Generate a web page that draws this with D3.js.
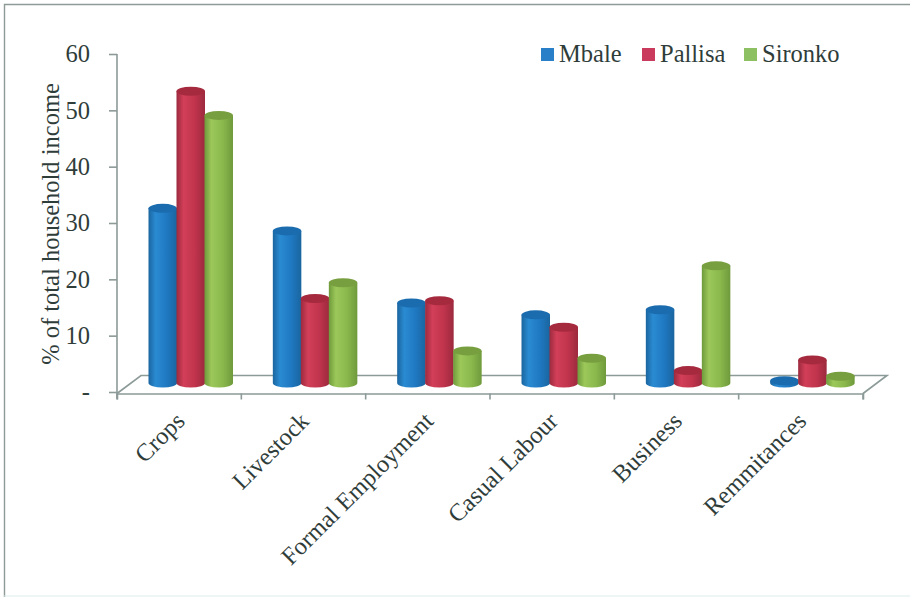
<!DOCTYPE html>
<html>
<head>
<meta charset="utf-8">
<script src="https://cdn.jsdelivr.net/npm/d3@7"></script>
<style>
  html, body { margin: 0; padding: 0; background: #fff; }
  svg { display: block; }
  text { font-family: "Liberation Serif", serif; fill: #2f3d3a; }
</style>
</head>
<body>
<svg id="chart" width="910" height="597"></svg>
<script>
const categories = ["Crops", "Livestock", "Formal Employment", "Casual Labour", "Business", "Remmitances"];
const seriesNames = ["Mbale", "Pallisa", "Sironko"];
const mbale = [31.0, 27.0, 14.2, 12.1, 13.0, 0.4];
const pallisa = [51.8, 15.0, 14.6, 9.9, 2.2, 4.1];
const sironko = [47.5, 17.8, 5.7, 4.4, 20.8, 1.2];
const seriesValues = [mbale, pallisa, sironko];
const yTicks = [0, 10, 20, 30, 40, 50, 60];
const palette = [
  { light: "#2a8bd2", mid: "#1f78c1", dark: "#1a659f", top: "#1b6cae", key: "#2a7fc9" },
  { light: "#d23f58", mid: "#c0344c", dark: "#9c2a3e", top: "#a62a3e", key: "#c93a5c" },
  { light: "#9cc85a", mid: "#8ab84c", dark: "#6f9a3c", top: "#789f3f", key: "#8cc062" }
];

const svg = d3.select("#chart");
const margin = { left: 117, right: 863, top: 54, bottom: 392 };
const depth = { x: 24, y: 18 };

const x = d3.scaleBand().domain(categories).range([margin.left, margin.right]);
const bars = d3.scaleBand().domain(seriesNames).range([0, 84]);
const y = d3.scaleLinear().domain([0, 60]).range([margin.bottom, margin.top]);

// Page frame: top and left edges are strong, the bottom edge is faint
svg.append("path").attr("d", "M910,4.5 H4.5 V597")
  .attr("fill", "none").attr("stroke", "#8d9a98").attr("stroke-width", 1.4);
svg.append("line").attr("x1", 4).attr("x2", 910).attr("y1", 596).attr("y2", 596)
  .attr("stroke", "#dcecec").attr("stroke-width", 1.2);

// Horizontal shading across each cylinder
const defs = svg.append("defs");
palette.forEach((c, i) => {
  const g = defs.append("linearGradient").attr("id", "cyl" + i);
  g.append("stop").attr("offset", "0%").attr("stop-color", c.dark);
  g.append("stop").attr("offset", "25%").attr("stop-color", c.light);
  g.append("stop").attr("offset", "65%").attr("stop-color", c.mid);
  g.append("stop").attr("offset", "100%").attr("stop-color", c.dark);
});

// Floor of the 3D plot
const floorY = margin.bottom + 1.5;
svg.append("path")
  .attr("d", d3.line()([
    [margin.left, floorY],
    [margin.left + depth.x, floorY - depth.y],
    [margin.right + depth.x, floorY - depth.y],
    [margin.right, floorY]
  ]))
  .attr("fill", "none").attr("stroke", "#8c9a98").attr("stroke-width", 1.6);

// Value axis
const yAxis = d3.axisLeft(y).tickValues(yTicks).tickSize(8).tickSizeOuter(8).tickPadding(19)
  .tickFormat(d => d === 0 ? "-" : d);
const yg = svg.append("g").attr("transform", `translate(${margin.left},0)`).call(yAxis);
yg.selectAll("path, line").attr("stroke", "#8c9a98").attr("stroke-width", 1.6);
yg.selectAll("text").attr("font-size", 24.5);
yg.select(".domain").remove();
yg.append("line").attr("x1", 0).attr("x2", 0).attr("y1", margin.top).attr("y2", floorY + 5)
  .attr("stroke", "#8c9a98").attr("stroke-width", 1.6);

// Category axis
const xAxis = d3.axisBottom(x).tickSize(6).tickSizeOuter(6).tickFormat("");
const xg = svg.append("g").attr("transform", `translate(0,${floorY})`).call(xAxis);
xg.selectAll("path, line").attr("stroke", "#8c9a98").attr("stroke-width", 1.6);
xg.selectAll(".tick line").attr("transform", function () {
  // tick marks sit on band edges, not band centres
  return `translate(${-x.bandwidth() / 2},0)`;
});
xg.selectAll(".tick").filter((d, i) => i === categories.length - 1)
  .append("line").attr("x1", x.bandwidth() / 2).attr("x2", x.bandwidth() / 2).attr("y2", 6)
  .attr("stroke", "#8c9a98").attr("stroke-width", 1.6);

// Cylinders, one group per category
const baseShift = 9;
const ry = 4.5;
const barShift = 31.5;
seriesNames.forEach((name, s) => {
  categories.forEach((cat, i) => {
    const bx = x(cat) + barShift + bars(name);
    const w = bars.bandwidth() + 0.5;
    const top = y(seriesValues[s][i]) - baseShift;
    const base = y(0) - baseShift;
    const g = svg.append("g");
    g.append("path")
      .attr("d", `M${bx},${top} L${bx},${base} A${w / 2},${ry} 0 0 0 ${bx + w},${base} L${bx + w},${top} Z`)
      .attr("fill", `url(#cyl${s})`);
    g.append("ellipse")
      .attr("cx", bx + w / 2).attr("cy", top)
      .attr("rx", w / 2).attr("ry", ry)
      .attr("fill", palette[s].top);
  });
});

// Axis title
svg.append("text")
  .attr("transform", "translate(59,224) rotate(-90)")
  .attr("text-anchor", "middle")
  .attr("font-size", 24.5)
  .text("% of total household income");

// Slanted category labels
svg.selectAll("text.cat").data(categories).join("text")
  .attr("class", "cat")
  .attr("text-anchor", "end")
  .attr("font-size", 24.5)
  .attr("transform", d => `translate(${x(d) + x.bandwidth() / 2 + 7},${floorY + 29}) rotate(-45)`)
  .text(d => d);

// Legend
const legendX = [541, 642, 744];
seriesNames.forEach((name, s) => {
  svg.append("rect").attr("x", legendX[s]).attr("y", 48).attr("width", 13).attr("height", 13)
    .attr("fill", palette[s].key);
  svg.append("text").attr("x", legendX[s] + 18).attr("y", 62).attr("font-size", 24.5).text(name);
});
</script>
</body>
</html>
